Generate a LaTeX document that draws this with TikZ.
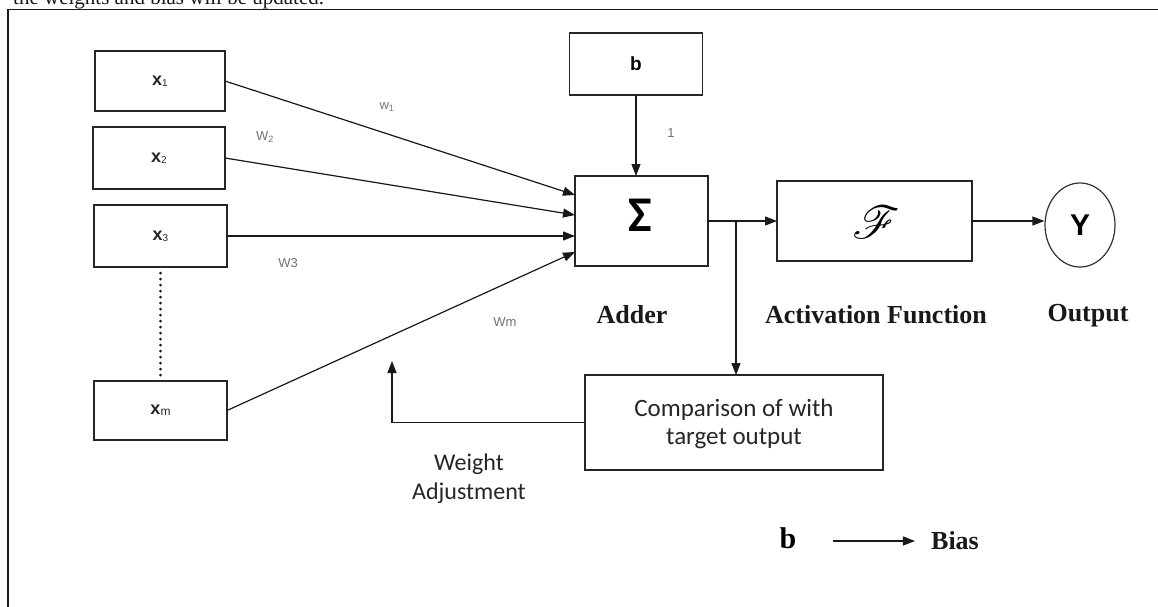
\documentclass[tikz,border=0pt]{standalone}
\usepackage{fontspec}
\usepackage{mathrsfs}
\usepackage{graphicx}
\setmainfont{Liberation Serif}
\newfontfamily\calib{Carlito}
\newfontfamily\arialf{Liberation Sans}
\usetikzlibrary{arrows.meta,shapes.geometric,calc}
\newcommand{\fs}[1]{\fontsize{#1}{#1}\selectfont}
\tikzset{
  box/.style={draw=black!85, line width=1.2pt, rectangle, inner sep=0pt, outer sep=0pt},
  conn/.style={draw=black!90, line width=1.2pt},
  arr/.style={conn, -{Triangle[length=12pt,width=9pt]}},
  xlab/.style={font=\arialf\fs{18}\bfseries, text=black!85},
  wlab/.style={font=\arialf\fs{13}, text=black!55, inner sep=0pt},
  blab/.style={font=\fs{26}\bfseries, text=black!90, inner sep=0pt},
  clab/.style={font=\calib\fs{25}, text=black!85, align=center},
}
\begin{document}
\begin{tikzpicture}[x=1pt,y=-1pt]
\path[use as bounding box] (0,0) rectangle (1158,606);
\clip (0,0) rectangle (1158,606);
\fill[white] (0,0) rectangle (1158,606);
% caption line above the frame, cut by the picture's top edge as in the reference
\node[anchor=base west, inner sep=0pt, font=\fs{21}, text=black!90] (cap) at (13,4) {the weights and bias will be updated.};
% outer frame (right and bottom outside the picture)
\draw[line width=1.6pt, black!90] (8,640) -- (8,9.5) -- (1180,9.5);

% input boxes
\node[box, minimum width=130pt, minimum height=60pt] (x1) at (160,81) {};
\node[xlab] at (x1) {x{\fs{10}\mdseries\raisebox{-1pt}{1}}};
\node[box, minimum width=132pt, minimum height=62pt] (x2) at (159,158) {};
\node[xlab] at (x2) {x{\fs{10}\mdseries\raisebox{-1pt}{2}}};
\node[box, minimum width=133pt, minimum height=62pt] (x3) at (160.5,236) {};
\node[xlab] at (x3) {x{\fs{10}\mdseries\raisebox{-1pt}{3}}};
\node[box, minimum width=133pt, minimum height=59pt] (xm) at (160.5,410.5) {};
\node[xlab] at (xm) {x{\fs{12}\mdseries\raisebox{-1pt}{m}}};

% bias, adder, activation, output
\node[box, minimum width=133pt, minimum height=62pt, font=\arialf\fs{19}\bfseries] (b) at (636,64) {b};
\node[box, minimum width=133pt, minimum height=90pt] (sig) at (641.5,221) {};
\node[font=\calib\fs{50}\bfseries, inner sep=0pt] (sigsym) at (640,215) {Σ};
\node[box, minimum width=195pt, minimum height=80pt] (F) at (874.5,221) {};
\node[inner sep=0pt, font=\fs{10}] (Fsym) at (876,222) {\scalebox{4.6}{$\mathscr{F}$}};
\node[draw=black!80, line width=1.2pt, ellipse, minimum width=70pt, minimum height=84pt, inner sep=0pt, font=\arialf\fs{30}\bfseries] (Y) at (1080,225) {Y};

% comparison box
\node[box, minimum width=298pt, minimum height=95pt] (comp) at (734,422.5) {};
\node[clab, inner sep=0pt] (comptxt) at (734,424) {Comparison of with\\[3pt]target output};

% labels
\node[blab] (adder) at (632,315) {Adder};
\node[blab] (act) at (876,315) {Activation Function};
\node[blab] (outl) at (1088,316) {Output};
\node[clab, font=\calib\fs{24}, inner sep=0pt] (wadj) at (469,479) {Weight\\[5pt]Adjustment};

% weight labels
\node[wlab] (w1) at (387,107) {w\textsubscript{1}};
\node[wlab] (w2) at (265,137) {W\textsubscript{2}};
\node[wlab] (w3) at (288,263) {W3};
\node[wlab] (wm) at (505,322) {Wm};
\node[wlab, font=\arialf\fs{13}] (one) at (671,133) {1};

% connectors
\draw[arr] (x1.east) -- ([yshift=26pt]sig.west);
\draw[arr] (x2.east) -- ([yshift=6pt]sig.west);
\draw[arr] (x3.east) -- ([yshift=-15pt]sig.west);
\draw[arr] (xm.east) -- ([yshift=-31pt]sig.west);
\draw[black!90, line width=3pt, line cap=round, dash pattern=on 0pt off 6pt] ([yshift=-6pt]x3.south) -- ([yshift=5pt]xm.north);
\draw[arr] (b.south) -- (b.south |- sig.north);
\draw[arr] (sig.east) -- (F.west);
\coordinate (j) at (736,221);
\draw[arr] (j) -- (j |- comp.north);
\draw[arr] (F.east) -- (F.east -| Y.west);
\coordinate (fb) at (392,361);
\draw[arr] (comp.west) -| (fb);

% legend
\node[font=\fs{30}\bfseries, inner sep=0pt] (bl) at (788,538) {b};
\node[blab] (bias) at (955,541) {Bias};
\draw[arr, shorten <=36pt, shorten >=16pt] (bl.east |- bias.west) -- (bias.west);
\end{tikzpicture}
\end{document}
